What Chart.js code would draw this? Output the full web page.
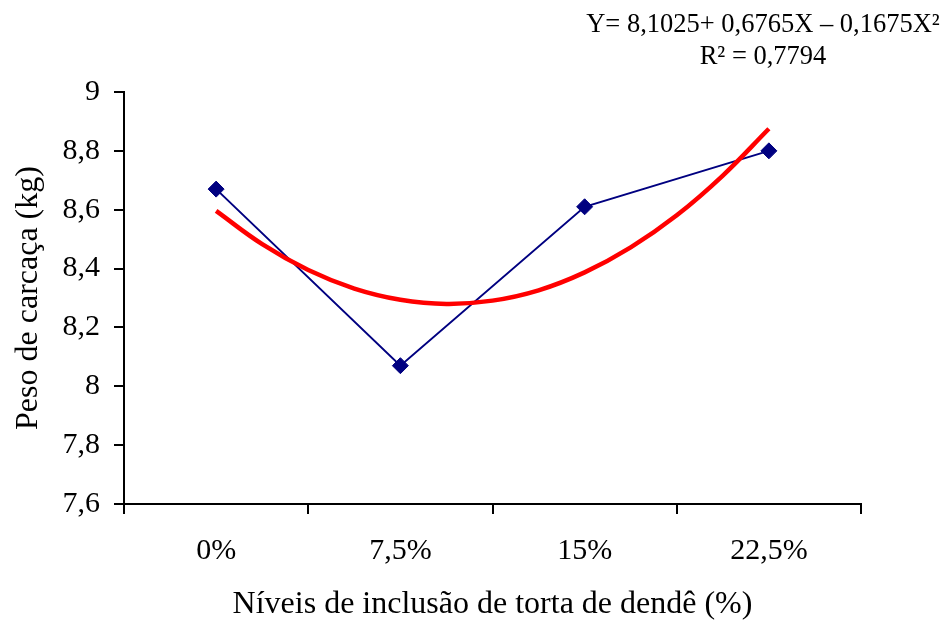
<!DOCTYPE html>
<html>
<head>
<meta charset="utf-8">
<script src="https://cdn.jsdelivr.net/npm/chart.js@4.4.1/dist/chart.umd.min.js"></script>
<style>
  html, body { margin: 0; padding: 0; background: #ffffff; }
  #wrap { width: 948px; height: 625px; }
</style>
</head>
<body>
<div id="wrap"><canvas id="chart" width="948" height="625"></canvas></div>
<script>
// Inclusion levels of palm kernel cake and mean carcass weight (kg)
const levels = ['0%', '7,5%', '15%', '22,5%'];
const carcassWeight = [8.67, 8.07, 8.61, 8.80];

// Quadratic trend line, sampled along the level axis (1 = 0%, 4 = 22,5%)
const trendX = [1, 1.25, 1.5, 1.75, 2, 2.25, 2.5, 2.75, 3, 3.25, 3.5, 3.75, 4];
const trendY = [8.596, 8.483, 8.395, 8.332, 8.294, 8.280, 8.291, 8.326, 8.387, 8.472, 8.581, 8.716, 8.875];

// Y axis tick values
const yTicks = [7.6, 7.8, 8, 8.2, 8.4, 8.6, 8.8, 9];

const equationLines = ['Y= 8,1025+ 0,6765X \u2013 0,1675X\u00B2', 'R\u00B2 = 0,7794'];

const serif = "'Liberation Serif', 'Times New Roman', serif";

const equationPlugin = {
  id: 'equation',
  afterDraw(chart) {
    const ctx = chart.ctx;
    ctx.save();
    ctx.fillStyle = '#000000';
    ctx.font = '26.5px ' + serif;
    ctx.textAlign = 'center';
    ctx.textBaseline = 'middle';
    ctx.fillText(equationLines[0], 763, 25);
    ctx.fillText(equationLines[1], 763, 57);
    ctx.restore();
  }
};

new Chart(document.getElementById('chart'), {
  type: 'line',
  data: {
    labels: levels,
    datasets: [
      {
        label: 'Peso de carcaça',
        data: carcassWeight,
        xAxisID: 'x',
        borderColor: '#000080',
        backgroundColor: '#000080',
        borderWidth: 2,
        pointStyle: 'rectRot',
        pointRadius: 8,
        pointBorderWidth: 1,
        tension: 0,
        order: 2
      },
      {
        label: 'Tendência',
        data: trendX.map((x, i) => ({ x: x, y: trendY[i] })),
        xAxisID: 'xt',
        borderColor: '#ff0000',
        borderWidth: 4.5,
        pointRadius: 0,
        tension: 0.4,
        order: 1
      }
    ]
  },
  options: {
    responsive: false,
    animation: false,
    events: [],
    layout: { padding: { top: 92, right: 87, left: 0, bottom: 0 } },
    plugins: {
      legend: { display: false },
      tooltip: { enabled: false }
    },
    scales: {
      x: {
        type: 'category',
        offset: true,
        afterFit(s) { s.height = 121; },
        border: { display: true, color: '#000000', width: 2 },
        grid: {
          offset: true,
          drawOnChartArea: false,
          drawTicks: true,
          tickLength: 10,
          color: '#000000',
          lineWidth: 2
        },
        ticks: {
          color: '#000000',
          font: { family: serif, size: 30 },
          padding: 19,
          maxRotation: 0
        },
        title: {
          display: true,
          text: 'Níveis de inclusão de torta de dendê (%)',
          color: '#000000',
          font: { family: serif, size: 32 },
          padding: { top: 0, bottom: 1 }
        }
      },
      xt: {
        type: 'linear',
        display: false,
        min: 0.5,
        max: 4.5
      },
      y: {
        type: 'linear',
        min: yTicks[0],
        max: yTicks[yTicks.length - 1],
        afterFit(s) { s.width = 124; },
        afterBuildTicks(s) { s.ticks = yTicks.map(v => ({ value: v })); },
        border: { display: true, color: '#000000', width: 2 },
        grid: {
          drawOnChartArea: false,
          drawTicks: true,
          tickLength: 10,
          color: '#000000',
          lineWidth: 2
        },
        ticks: {
          color: '#000000',
          font: { family: serif, size: 30 },
          padding: 14,
          callback: v => String(Math.round(v * 10) / 10).replace('.', ',')
        },
        title: {
          display: true,
          text: 'Peso de carcaça (kg)',
          color: '#000000',
          font: { family: serif, size: 32 },
          padding: { top: 9, bottom: 0 }
        }
      }
    }
  },
  plugins: [equationPlugin]
});
</script>
</body>
</html>
